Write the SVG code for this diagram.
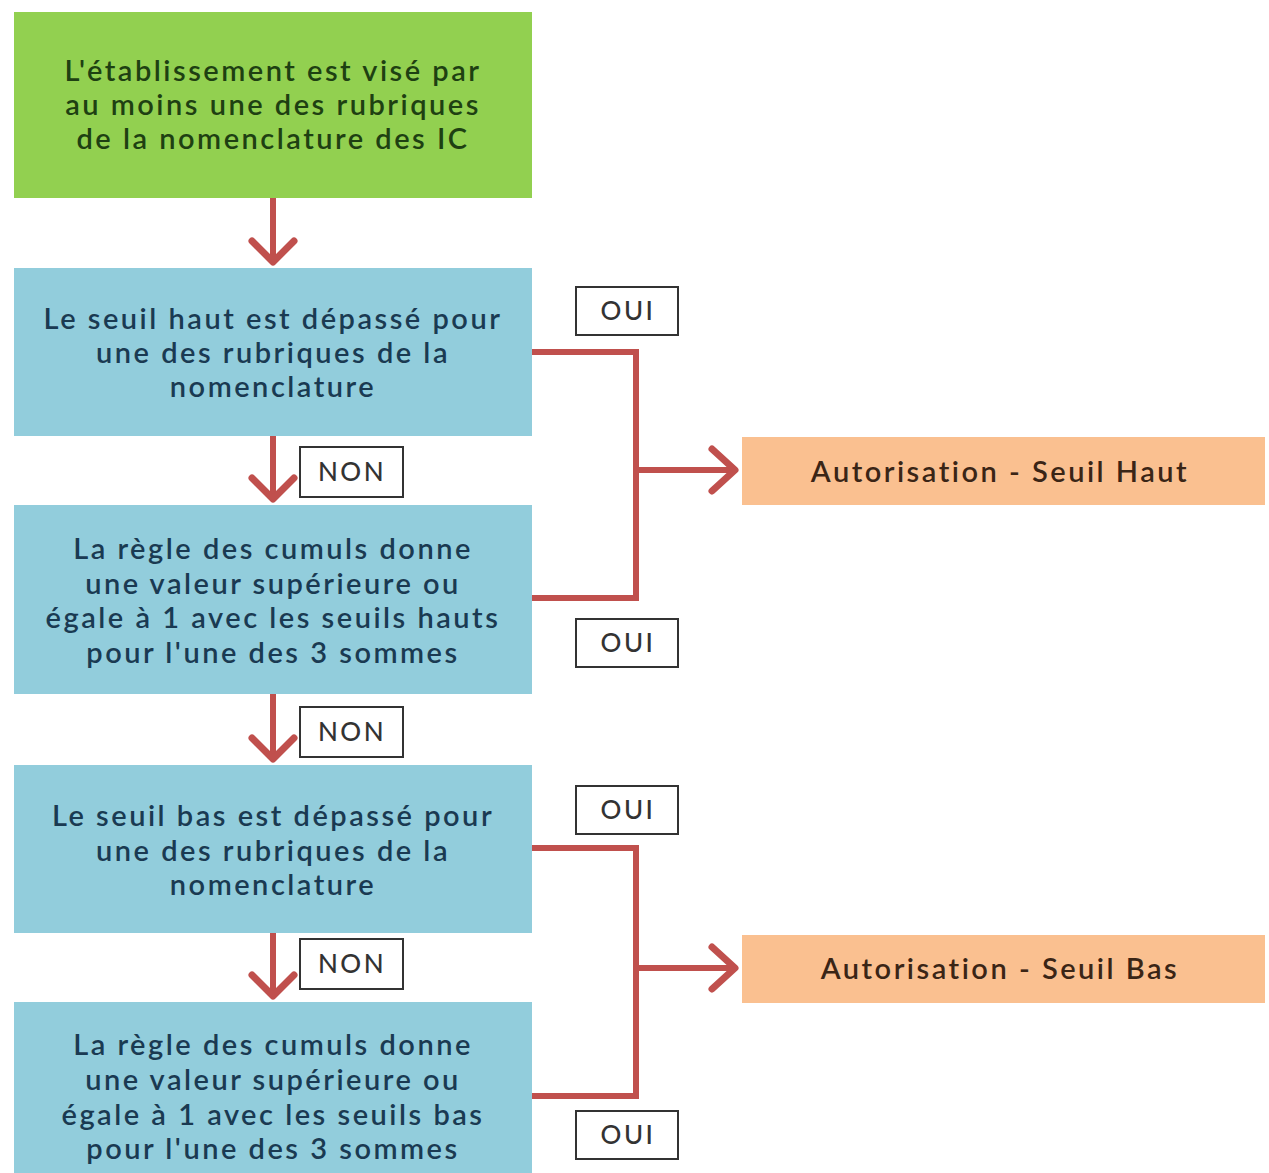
<svg xmlns="http://www.w3.org/2000/svg" width="1269" height="1173" viewBox="0 0 1269 1173">
<style>
.t{font-family:Lato,"Open Sans","Liberation Sans",sans-serif;font-size:29px;font-weight:600;text-anchor:middle;dominant-baseline:central;letter-spacing:2.5px}
.g{fill:#92d050}.b{fill:#92cddc}.o{fill:#fac090}
.tg{fill:#1e4012}.tb{fill:#1a3a52}.to{fill:#3a2516}
.lbl{fill:#fff;stroke:#333;stroke-width:2}
.lt{font-family:Lato,"Open Sans","Liberation Sans",sans-serif;font-size:26px;font-weight:500;text-anchor:middle;dominant-baseline:central;fill:#333;letter-spacing:2.5px}
.c{fill:none;stroke:#c0504d;stroke-width:6;stroke-linejoin:miter}
.h{fill:none;stroke:#c0504d;stroke-width:7;stroke-linecap:round;stroke-linejoin:round}
</style>
<rect width="1269" height="1173" fill="#fff"/>
<g id="connectors">
<path class="c" d="M273 198V262"/><path class="h" d="M252 241L273 262L294 241"/>
<path class="c" d="M273 436V499"/><path class="h" d="M252 478L273 499L294 478"/>
<path class="c" d="M273 694V759"/><path class="h" d="M252 738L273 759L294 738"/>
<path class="c" d="M273 933V996"/><path class="h" d="M252 975L273 996L294 975"/>
<path class="c" d="M532 352H636V598H532"/><path class="c" d="M636 470H734"/><path class="h" d="M712 449L735 470L712 491"/>
<path class="c" d="M532 848H636V1096H532"/><path class="c" d="M636 968H734"/><path class="h" d="M712 947L735 968L712 989"/>
</g>
<g id="n1"><rect class="g" x="14" y="12" width="518" height="186"/>
<text class="t tg" x="273" y="69">L'établissement est visé par</text>
<text class="t tg" x="273" y="103">au moins une des rubriques</text>
<text class="t tg" x="273" y="137">de la nomenclature des IC</text></g>
<g id="n2"><rect class="b" x="14" y="268" width="518" height="168"/>
<text class="t tb" x="273" y="317">Le seuil haut est dépassé pour</text>
<text class="t tb" x="273" y="351">une des rubriques de la</text>
<text class="t tb" x="273" y="385">nomenclature</text></g>
<g id="n3"><rect class="b" x="14" y="505" width="518" height="189"/>
<text class="t tb" x="273" y="547">La règle des cumuls donne</text>
<text class="t tb" x="273" y="582">une valeur supérieure ou</text>
<text class="t tb" x="273" y="616">égale à 1 avec les seuils hauts</text>
<text class="t tb" x="273" y="651">pour l'une des 3 sommes</text></g>
<g id="n4"><rect class="b" x="14" y="765" width="518" height="168"/>
<text class="t tb" x="273" y="814">Le seuil bas est dépassé pour</text>
<text class="t tb" x="273" y="849">une des rubriques de la</text>
<text class="t tb" x="273" y="883">nomenclature</text></g>
<g id="n5"><rect class="b" x="14" y="1002" width="518" height="171"/>
<text class="t tb" x="273" y="1043">La règle des cumuls donne</text>
<text class="t tb" x="273" y="1078">une valeur supérieure ou</text>
<text class="t tb" x="273" y="1113">égale à 1 avec les seuils bas</text>
<text class="t tb" x="273" y="1147">pour l'une des 3 sommes</text></g>
<g id="n6"><rect class="o" x="742" y="437" width="523" height="68"/>
<text class="t to" x="1000" y="470">Autorisation - Seuil Haut</text></g>
<g id="n7"><rect class="o" x="742" y="935" width="523" height="68"/>
<text class="t to" x="1000" y="967">Autorisation - Seuil Bas</text></g>
<g id="labels">
<rect class="lbl" x="576" y="287" width="102" height="48"/><text class="lt" x="628" y="310">OUI</text>
<rect class="lbl" x="576" y="619" width="102" height="48"/><text class="lt" x="628" y="642">OUI</text>
<rect class="lbl" x="576" y="786" width="102" height="48"/><text class="lt" x="628" y="809">OUI</text>
<rect class="lbl" x="576" y="1111" width="102" height="48"/><text class="lt" x="628" y="1134">OUI</text>
<rect class="lbl" x="300" y="447" width="103" height="50"/><text class="lt" x="352" y="471">NON</text>
<rect class="lbl" x="300" y="707" width="103" height="50"/><text class="lt" x="352" y="731">NON</text>
<rect class="lbl" x="300" y="939" width="103" height="50"/><text class="lt" x="352" y="963">NON</text>
</g>
</svg>
